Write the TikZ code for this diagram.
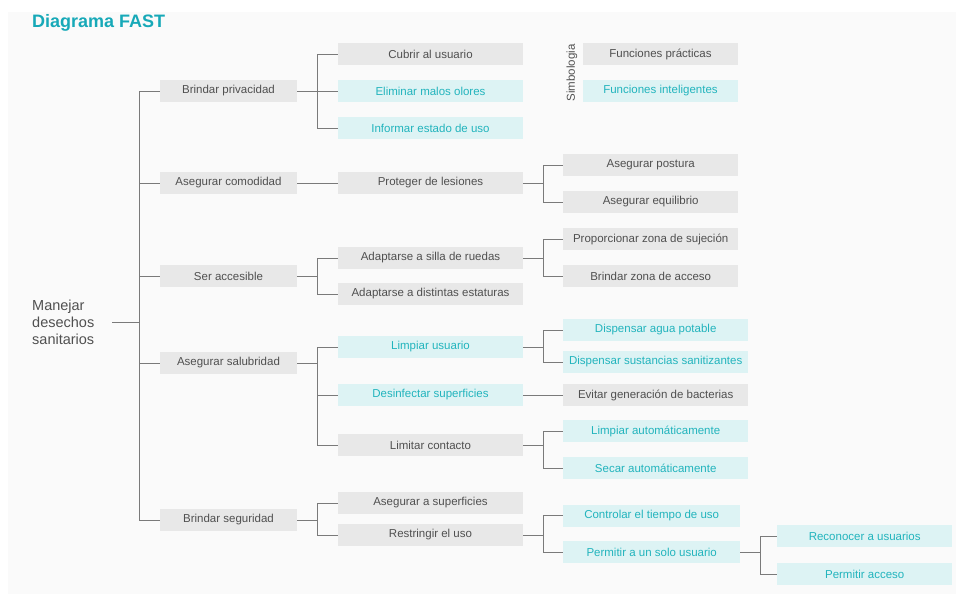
\documentclass[tikz,border=0pt]{standalone}
\usepackage{fontspec}
\setmainfont{Liberation Sans}
\usetikzlibrary{positioning}
\definecolor{fastteal}{HTML}{17A9B8}
\definecolor{pracfill}{HTML}{E8E8E8}
\definecolor{practext}{HTML}{505050}
\definecolor{intelfill}{HTML}{DDF3F4}
\definecolor{inteltext}{HTML}{22B4BD}
\definecolor{linegray}{HTML}{7A7A7A}
\definecolor{panelbg}{HTML}{FAFAFA}
\begin{document}
\begin{tikzpicture}[x=1pt,y=-1pt,
  fbox/.style={minimum height=22pt,inner sep=0pt,font=\fontsize{11.5}{13}\selectfont},
  prac/.style={fbox,fill=pracfill,text=practext},
  intel/.style={fbox,fill=intelfill,text=inteltext},
  conn/.style={draw=linegray,line width=0.8pt}]
% page and panel
\useasboundingbox (0,0) rectangle (959,594);
\fill[white] (0,0) rectangle (959,594);
\fill[panelbg] (8,12) rectangle (956,594);
% title and root
\node[anchor=base west,inner sep=0pt,font=\fontsize{18}{20}\selectfont\bfseries,text=fastteal] (title) at (32,28) {Diagrama FAST};
\node[anchor=west,align=left,inner sep=0pt,font=\fontsize{14.5}{17}\selectfont,text=practext] (root) at (32,322) {Manejar\\desechos\\sanitarios};
% legend
\node[rotate=90,inner sep=0pt,font=\fontsize{11.5}{13}\selectfont,text=practext] (simb) at (572,73) {Simbologia};
\node[prac,minimum width=155pt] (legp) at (660.5,54) {Funciones prácticas};
\node[intel,minimum width=155pt] (legi) at (660.5,91) {Funciones inteligentes};
% level 1
\node[prac,minimum width=137pt] (priv) at (228.5,91) {Brindar privacidad};
\node[prac,minimum width=137pt] (comod) at (228.5,183) {Asegurar comodidad};
\node[prac,minimum width=137pt] (acces) at (228.5,276) {Ser accesible};
\node[prac,minimum width=137pt] (salub) at (228.5,363) {Asegurar salubridad};
\node[prac,minimum width=137pt] (segur) at (228.5,520) {Brindar seguridad};
% level 2
\node[prac,minimum width=185pt] (cubrir) at (430.5,54) {Cubrir al usuario};
\node[intel,minimum width=185pt] (olores) at (430.5,91) {Eliminar malos olores};
\node[intel,minimum width=185pt] (estado) at (430.5,128) {Informar estado de uso};
\node[prac,minimum width=185pt] (lesion) at (430.5,183) {Proteger de lesiones};
\node[prac,minimum width=185pt] (silla) at (430.5,258) {Adaptarse a silla de ruedas};
\node[prac,minimum width=185pt] (estat) at (430.5,294) {Adaptarse a distintas estaturas};
\node[intel,minimum width=185pt] (limpiar) at (430.5,347) {Limpiar usuario};
\node[intel,minimum width=185pt] (desinf) at (430.5,395) {Desinfectar superficies};
\node[prac,minimum width=185pt] (limitar) at (430.5,445) {Limitar contacto};
\node[prac,minimum width=185pt] (asegsup) at (430.5,503) {Asegurar a superficies};
\node[prac,minimum width=185pt] (restr) at (430.5,535) {Restringir el uso};
% level 3
\node[prac,minimum width=175pt,anchor=west] (postura) at (563,165) {Asegurar postura};
\node[prac,minimum width=175pt,anchor=west] (equil) at (563,202) {Asegurar equilibrio};
\node[prac,minimum width=175pt,anchor=west] (sujec) at (563,239) {Proporcionar zona de sujeción};
\node[prac,minimum width=175pt,anchor=west] (acceso) at (563,276) {Brindar zona de acceso};
\node[intel,minimum width=185pt,anchor=west] (agua) at (563,330) {Dispensar agua potable};
\node[intel,minimum width=185pt,anchor=west] (sustan) at (563,362) {Dispensar sustancias sanitizantes};
\node[prac,minimum width=185pt,anchor=west] (bacter) at (563,395) {Evitar generación de bacterias};
\node[intel,minimum width=185pt,anchor=west] (limpauto) at (563,431) {Limpiar automáticamente};
\node[intel,minimum width=185pt,anchor=west] (secar) at (563,468) {Secar automáticamente};
\node[intel,minimum width=177pt,anchor=west] (tiempo) at (563,515.5) {Controlar el tiempo de uso};
\node[intel,minimum width=177pt,anchor=west] (solo) at (563,552) {Permitir a un solo usuario};
% level 4
\node[intel,minimum width=175pt,anchor=west] (recon) at (777,536) {Reconocer a usuarios};
\node[intel,minimum width=175pt,anchor=west] (permacc) at (777,574) {Permitir acceso};
% connectors
\coordinate (trunk) at (139,322);
\draw[conn] ([xshift=18pt]root.east) -- (trunk);
\foreach \n in {priv,comod,acces,salub,segur} {\draw[conn] (trunk) |- (\n.west);}
\draw[conn] (priv.east) -- ++(20,0) coordinate (jpriv);
\foreach \n in {cubrir,olores,estado} {\draw[conn] (jpriv) |- (\n.west);}
\draw[conn] (comod.east) -- (lesion.west);
\draw[conn] (acces.east) -- ++(20,0) coordinate (jacces);
\foreach \n in {silla,estat} {\draw[conn] (jacces) |- (\n.west);}
\draw[conn] (salub.east) -- ++(20,0) coordinate (jsalub);
\foreach \n in {limpiar,desinf,limitar} {\draw[conn] (jsalub) |- (\n.west);}
\draw[conn] (segur.east) -- ++(20,0) coordinate (jsegur);
\foreach \n in {asegsup,restr} {\draw[conn] (jsegur) |- (\n.west);}
\draw[conn] (lesion.east) -- ++(20,0) coordinate (jlesion);
\foreach \n in {postura,equil} {\draw[conn] (jlesion) |- (\n.west);}
\draw[conn] (silla.east) -- ++(20,0) coordinate (jsilla);
\foreach \n in {sujec,acceso} {\draw[conn] (jsilla) |- (\n.west);}
\draw[conn] (limpiar.east) -- ++(20,0) coordinate (jlimpiar);
\foreach \n in {agua,sustan} {\draw[conn] (jlimpiar) |- (\n.west);}
\draw[conn] (desinf.east) -- (bacter.west);
\draw[conn] (limitar.east) -- ++(20,0) coordinate (jlimitar);
\foreach \n in {limpauto,secar} {\draw[conn] (jlimitar) |- (\n.west);}
\draw[conn] (restr.east) -- ++(20,0) coordinate (jrestr);
\foreach \n in {tiempo,solo} {\draw[conn] (jrestr) |- (\n.west);}
\draw[conn] (solo.east) -- ++(20,0) coordinate (jsolo);
\foreach \n in {recon,permacc} {\draw[conn] (jsolo) |- (\n.west);}
\end{tikzpicture}
\end{document}
